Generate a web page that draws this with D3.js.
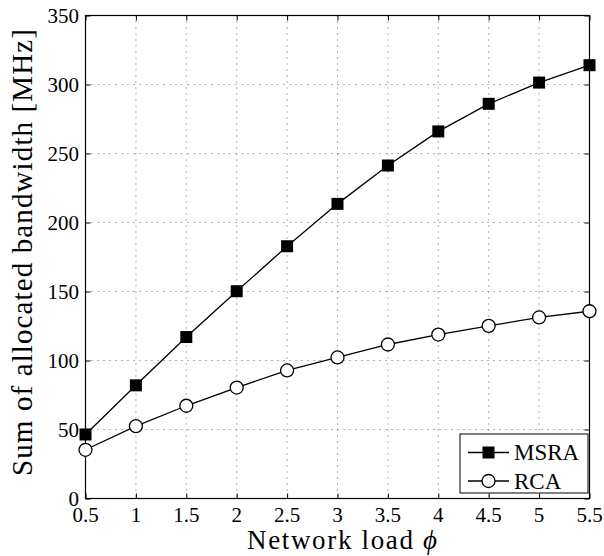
<!DOCTYPE html>
<html>
<head>
<meta charset="utf-8">
<script src="https://cdn.jsdelivr.net/npm/d3@7"></script>
<style>
body{margin:0;background:#fff;}
text{font-family:"Liberation Serif","DejaVu Serif",serif;fill:#000;}
</style>
</head>
<body>
<div id="chart"></div>
<script>
let chart_width = 604;
let chart_height = 556;

let loads = [0.5,1,1.5,2,2.5,3,3.5,4,4.5,5,5.5];
let msra = [46.4,82,117,150.2,182.8,213.5,241.3,266,286,301.4,314];
let rca = [35.3,52.4,67.2,80.4,92.8,102.2,111.6,118.8,125.1,131.2,135.7];
let x_ticks = [0.5,1,1.5,2,2.5,3,3.5,4,4.5,5,5.5];
let y_ticks = [0,50,100,150,200,250,300,350];
let series_names = ['MSRA','RCA'];

const plot_left = 85.5, plot_right = 589.5, plot_top = 15.5, plot_bottom = 498.5;

const xScale = d3.scaleLinear().domain([0.5,5.5]).range([plot_left,plot_right]);
const yScale = d3.scaleLinear().domain([0,350]).range([plot_bottom,plot_top]);

let svg = d3.select('#chart')
    .append('svg')
    .attr('width',chart_width)
    .attr('height',chart_height);

// grid
let grid = svg.append('g').attr('class','grid');
x_ticks.slice(1,-1).forEach(function(t){
    grid.append('line')
        .attr('x1',xScale(t)).attr('x2',xScale(t))
        .attr('y1',plot_top).attr('y2',plot_bottom)
        .attr('stroke','#666').attr('stroke-width',1)
        .attr('stroke-dasharray','1,5');
});
y_ticks.slice(1,-1).forEach(function(t){
    grid.append('line')
        .attr('x1',plot_left).attr('x2',plot_right)
        .attr('y1',yScale(t)).attr('y2',yScale(t))
        .attr('stroke','#666').attr('stroke-width',1)
        .attr('stroke-dasharray','1,5');
});

// axes with inward ticks on all sides
svg.append('g')
    .attr('transform','translate(0,'+plot_bottom+')')
    .call(d3.axisTop(xScale).tickValues(x_ticks).tickSize(5).tickFormat(''))
    .call(g=>g.select('.domain').remove());
svg.append('g')
    .attr('transform','translate(0,'+plot_top+')')
    .call(d3.axisBottom(xScale).tickValues(x_ticks).tickSize(5).tickFormat(''))
    .call(g=>g.select('.domain').remove());
svg.append('g')
    .attr('transform','translate('+plot_left+',0)')
    .call(d3.axisRight(yScale).tickValues(y_ticks).tickSize(5).tickFormat(''))
    .call(g=>g.select('.domain').remove());
svg.append('g')
    .attr('transform','translate('+plot_right+',0)')
    .call(d3.axisLeft(yScale).tickValues(y_ticks).tickSize(5).tickFormat(''))
    .call(g=>g.select('.domain').remove());

svg.append('rect')
    .attr('x',plot_left).attr('y',plot_top)
    .attr('width',plot_right-plot_left).attr('height',plot_bottom-plot_top)
    .attr('fill','none').attr('stroke','#000').attr('stroke-width',1.2);

// tick labels
svg.append('g').selectAll('text')
    .data(x_ticks).enter()
    .append('text')
    .text(d=>d)
    .attr('x',d=>xScale(d))
    .attr('y',522)
    .attr('text-anchor','middle')
    .style('font-size','21px');

svg.append('g').selectAll('text')
    .data(y_ticks).enter()
    .append('text')
    .text(d=>d)
    .attr('x',79)
    .attr('y',d=>yScale(d)+7)
    .attr('text-anchor','end')
    .style('font-size','21px');

// axis labels
let xl = svg.append('text')
    .attr('x',342).attr('y',549)
    .attr('text-anchor','middle')
    .attr('textLength',190)
    .attr('lengthAdjust','spacing')
    .style('font-size','27px');
xl.append('tspan').text('Network load ');
xl.append('tspan').text('\u03D5').style('font-style','italic');

svg.append('text')
    .attr('transform','translate(32,252.5) rotate(-90)')
    .attr('text-anchor','middle')
    .attr('textLength',447)
    .attr('lengthAdjust','spacing')
    .style('font-size','29px')
    .text('Sum of allocated bandwidth [MHz]');

// lines
let line = d3.line()
    .x((d,i)=>xScale(loads[i]))
    .y(d=>yScale(d));

svg.append('path').datum(msra)
    .attr('d',line).attr('fill','none')
    .attr('stroke','#000').attr('stroke-width',1.3);
svg.append('path').datum(rca)
    .attr('d',line).attr('fill','none')
    .attr('stroke','#000').attr('stroke-width',1.3);

svg.append('g').selectAll('rect')
    .data(msra).enter()
    .append('rect')
    .attr('x',(d,i)=>xScale(loads[i])-6)
    .attr('y',d=>yScale(d)-6)
    .attr('width',12).attr('height',12)
    .attr('fill','#000');

svg.append('g').selectAll('circle')
    .data(rca).enter()
    .append('circle')
    .attr('cx',(d,i)=>xScale(loads[i]))
    .attr('cy',d=>yScale(d))
    .attr('r',6.5)
    .attr('fill','#fff')
    .attr('stroke','#000').attr('stroke-width',1.3);

// legend
let legend = svg.append('g');
legend.append('rect')
    .attr('x',460).attr('y',434)
    .attr('width',128).attr('height',59)
    .attr('fill','#fff').attr('stroke','#000').attr('stroke-width',1);

series_names.forEach(function(name,i){
    let ly = 452.5 + i*28.5;
    legend.append('line')
        .attr('x1',468).attr('x2',509)
        .attr('y1',ly).attr('y2',ly)
        .attr('stroke','#000').attr('stroke-width',1.3);
    if(i===0){
        legend.append('rect')
            .attr('x',482.5).attr('y',ly-6)
            .attr('width',12).attr('height',12)
            .attr('fill','#000');
    }
    else{
        legend.append('circle')
            .attr('cx',488.5).attr('cy',ly)
            .attr('r',6.5)
            .attr('fill','#fff')
            .attr('stroke','#000').attr('stroke-width',1.3);
    }
    legend.append('text')
        .text(name)
        .attr('x',514)
        .attr('y',ly+7.5)
        .style('font-size','23px');
});
</script>
</body>
</html>
